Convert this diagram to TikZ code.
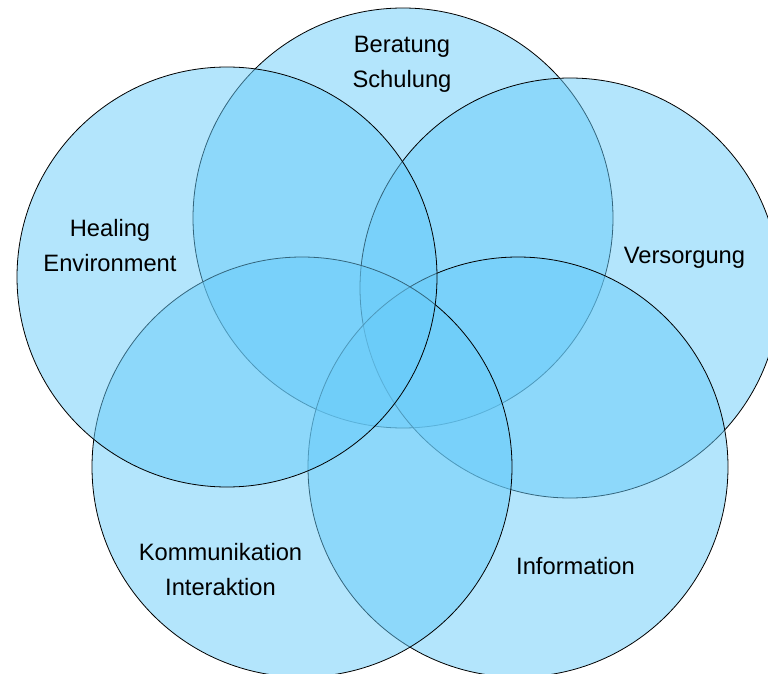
\documentclass[tikz,border=0pt]{standalone}
\usepackage{fontspec}
\setmainfont{Liberation Sans}
\definecolor{petalblue}{RGB}{103,203,249}

\begin{document}
\begin{tikzpicture}[x=1pt, y=-1pt,
        petal/.style={fill=petalblue, fill opacity=0.5, draw=black, line width=0.8pt},
        lbl/.style={anchor=north, inner sep=0pt, align=center, text=black,
            font=\fontsize{23.7}{35}\selectfont}]
        \useasboundingbox (0,0) rectangle (768,674);
        \clip (0,0) rectangle (768,674);

        % circle centres, clockwise from the top
        \coordinate (c1) at (403,218);
        \coordinate (c2) at (570,288);
        \coordinate (c3) at (518,467);
        \coordinate (c4) at (302,467);
        \coordinate (c5) at (227,277);
        \foreach \i in {1,...,5} \filldraw[petal] (c\i) circle (210pt);

        % labels
        \node[lbl] (beratung) at (402,36) {Beratung\\Schulung};
        \node[lbl] (versorgung) at (684.5,247) {Versorgung};
        \node[lbl] (information) at (575.5,557) {Information};
        \node[lbl] (kommunikation) at (220.5,543) {Kommunikation\\Interaktion};
        \node[lbl] (healing) at (110,219) {Healing\\Environment};
    \end{tikzpicture}
\end{document}
